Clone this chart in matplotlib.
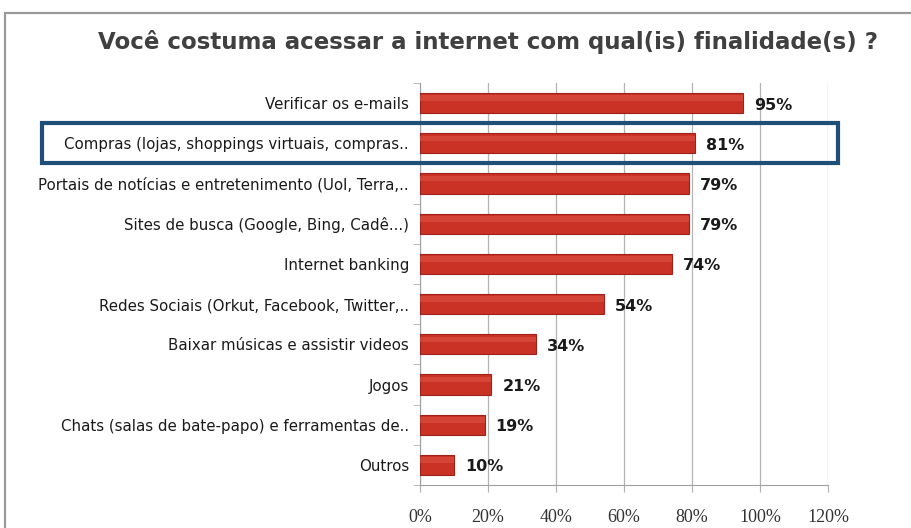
import numpy as np
import matplotlib
matplotlib.use("Agg")
import matplotlib.pyplot as plt
from matplotlib.patches import Rectangle

# dados
categorias = [
    "Verificar os e-mails",
    "Compras (lojas, shoppings virtuais, compras..",
    "Portais de notícias e entretenimento (Uol, Terra,..",
    "Sites de busca (Google, Bing, Cadê...)",
    "Internet banking",
    "Redes Sociais (Orkut, Facebook, Twitter,..",
    "Baixar músicas e assistir videos",
    "Jogos",
    "Chats (salas de bate-papo) e ferramentas de..",
    "Outros",
]
valores = [95, 81, 79, 79, 74, 54, 34, 21, 19, 10]
xticks = [0, 20, 40, 60, 80, 100, 120]

W, H = 912, 528
fig = plt.figure(figsize=(W / 100, H / 100), dpi=100)
fig.patch.set_facecolor("white")

# moldura cinza
fig.add_artist(Rectangle((5 / W, -0.05), 1.2, 1 - 13 / H + 0.05, transform=fig.transFigure,
                         fill=False, edgecolor="#9a9a9a", lw=1.6))

ax = fig.add_axes([420 / W, 1 - 485 / H, 408 / W, 402 / H])
y = np.arange(len(categorias))
ax.barh(y, valores, height=0.5, color="#c93225", edgecolor="#9e2219", lw=0.8, zorder=3)
# brilho leve no topo das barras
ax.barh(y - 0.12, valores, height=0.14, color="#e0594a", lw=0, alpha=0.5, zorder=4)

for yi, v in zip(y, valores):
    ax.text(v + 3.2, yi + 0.05, f"{v}%", va="center", ha="left", fontsize=11.5,
            fontweight="bold", color="#1a1a1a", family="DejaVu Sans")

ax.set_xlim(0, 120)
ax.set_ylim(len(categorias) - 0.5, -0.5)
ax.set_xticks(xticks)
ax.set_xticklabels([f"{t}%" for t in xticks], family="Liberation Serif", fontsize=13,
                   color="#333333")
ax.tick_params(axis="x", length=5, pad=12, color="#b0b0b0")
ax.set_yticks(y)
ax.set_yticklabels(categorias, fontsize=10.8, color="#1a1a1a")
ax.set_yticks(np.arange(len(categorias) + 1) - 0.5, minor=True)
ax.tick_params(axis="y", which="major", length=0, pad=8)
ax.tick_params(axis="y", which="minor", length=5, color="#b0b0b0")
ax.grid(axis="x", color="#b4b4b4", lw=0.9, zorder=0)
for s in ["top", "right"]:
    ax.spines[s].set_visible(False)
ax.spines["left"].set_color("#a0a0a0")
ax.spines["bottom"].set_color("#a0a0a0")

fig.text(488 / W, 1 - 42 / H, "Você costuma acessar a internet com qual(is) finalidade(s) ?",
         ha="center", va="center", fontsize=16.5, fontweight="bold", color="#404040")

# destaque azul na segunda linha
fig.add_artist(Rectangle((42 / W, 1 - 163 / H), 796 / W, 40 / H, transform=fig.transFigure,
                         fill=False, edgecolor="#1f4e79", lw=3, zorder=10))

fig.savefig("out.png", dpi=100)
